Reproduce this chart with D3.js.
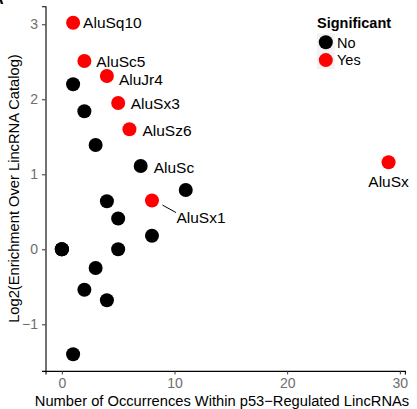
<!DOCTYPE html>
<html>
<head>
<meta charset="utf-8">
<script src="https://cdn.jsdelivr.net/npm/d3@7"></script>
<style>
  body { margin: 0; background: #fff; }
  text { font-family: "Liberation Sans", Arial, sans-serif; }
</style>
</head>
<body>
<script>
// Repeat elements: label (blank = unlabelled), occurrences, log2 enrichment, significance
const repeatNames = ["AluSq10", "AluSc5", "AluJr4", "", "AluSx3", "", "AluSz6", "", "AluSc", "",
                     "", "AluSx1", "", "", "", "", "", "", "", "", "", "", "AluSx"];
const occurrences = [1, 2, 4, 1, 5, 2, 6, 3, 7, 11,
                     4, 8, 5, 8, 0, 0, 0, 5, 3, 2, 4, 1, 29];
const log2Enrich  = [3.02, 2.51, 2.31, 2.20, 1.95, 1.84, 1.60, 1.39, 1.11, 0.79,
                     0.64, 0.65, 0.41, 0.18, 0, 0, 0, 0.0, -0.25, -0.54, -0.68, -1.40, 1.16];
const significant = ["Yes", "Yes", "Yes", "No", "Yes", "No", "Yes", "No", "No", "No",
                     "No", "Yes", "No", "No", "No", "No", "No", "No", "No", "No", "No", "No", "Yes"];

const xTicks = [0, 10, 20, 30];
const yTicks = [-1, 0, 1, 2, 3];
const legendLevels = ["No", "Yes"];

const W = 417, H = 409;
const panel = {left: 45.5, right: 404.9, top: 6.2, bottom: 370.9};
const R = 7;

const points = occurrences.map((d, i) => ({
  name: repeatNames[i], x: d, y: log2Enrich[i], sig: significant[i]
}));

const svg = d3.select("body").append("svg")
    .attr("width", W)
    .attr("height", H);

// ggplot-style 5% expansion
function expand(ext) {
  const pad = (ext[1] - ext[0]) * 0.05;
  return [ext[0] - pad, ext[1] + pad];
}

const x = d3.scaleLinear()
    .domain(expand(d3.extent(occurrences)))
    .range([panel.left, panel.right]);
const y = d3.scaleLinear()
    .domain(expand(d3.extent(log2Enrich)))
    .range([panel.bottom, panel.top]);
const color = d3.scaleOrdinal().domain(legendLevels).range(["#000000", "#ff0000"]);

// axes
const xAxis = svg.append("g")
    .attr("transform", `translate(0,${panel.bottom})`)
    .call(d3.axisBottom(x).tickValues(xTicks).tickFormat(d3.format("d"))
      .tickSizeOuter(0).tickSize(3.5).tickPadding(4));
const yAxis = svg.append("g")
    .attr("transform", `translate(${panel.left},0)`)
    .call(d3.axisLeft(y).tickValues(yTicks).tickFormat(d3.format("d"))
      .tickSizeOuter(0).tickSize(3.5).tickPadding(4));

[xAxis, yAxis].forEach(g => {
  g.select(".domain").attr("stroke", "#000").attr("stroke-width", 1.1);
  g.selectAll(".tick line").attr("stroke", "#333");
  g.selectAll(".tick text").attr("fill", "#6e6e6e").style("font-size", "14px")
    .style("font-family", "Liberation Sans, Arial, sans-serif");
});

// axis titles
svg.append("text")
    .attr("x", 222)
    .attr("y", 406)
    .attr("text-anchor", "middle")
    .style("font-size", "14.7px")
    .text("Number of Occurrences Within p53\u2212Regulated LincRNAs");

svg.append("text")
    .attr("transform", `translate(19,${(panel.top + panel.bottom) / 2}) rotate(-90)`)
    .attr("text-anchor", "middle")
    .style("font-size", "14.7px")
    .text("Log2(Enrichment Over LincRNA Catalog)");

// panel tag, mostly cropped as in the source figure
svg.append("text")
    .attr("x", -8).attr("y", 4)
    .style("font-size", "16px").style("font-weight", "bold")
    .text("A");

// points
svg.append("g").selectAll("circle")
    .data(points)
    .join("circle")
    .attr("cx", d => x(d.x))
    .attr("cy", d => y(d.y))
    .attr("r", R)
    .attr("fill", d => color(d.sig));

// labels (repel-like nudges)
const nudge = {
  "AluSq10": [10, 0], "AluSc5": [12, 0], "AluJr4": [12, 3.5], "AluSx3": [12.5, 0.5],
  "AluSz6": [13, 1.5], "AluSc": [13, 1], "AluSx1": [24.5, 16.5], "AluSx": [0, 19]
};
const labelled = points.filter(d => d.name);

svg.append("line")
    .datum(labelled.find(d => d.name === "AluSx1"))
    .attr("x1", d => x(d.x) + 10.5).attr("y1", d => y(d.y) + 4.5)
    .attr("x2", d => x(d.x) + 24).attr("y2", d => y(d.y) + 12)
    .attr("stroke", "#000").attr("stroke-width", 1);

svg.append("g").selectAll("text")
    .data(labelled)
    .join("text")
    .attr("x", d => x(d.x) + nudge[d.name][0])
    .attr("y", d => y(d.y) + nudge[d.name][1])
    .attr("dy", "0.36em")
    .attr("text-anchor", d => d.name === "AluSx" ? "middle" : "start")
    .style("font-size", "15.5px")
    .text(d => d.name);

// legend
const lg = svg.append("g").attr("transform", "translate(317,0)");
lg.append("text")
    .attr("x", 0).attr("y", 28)
    .style("font-size", "14.5px").style("font-weight", "bold")
    .text("Significant");
const item = lg.selectAll("g.item")
    .data(legendLevels)
    .join("g")
    .attr("class", "item")
    .attr("transform", (d, i) => `translate(0,${33.5 + i * 17.8})`);
item.append("rect")
    .attr("width", 17.6).attr("height", 17.6)
    .attr("fill", "#f2f2f2");
item.append("circle")
    .attr("cx", 8.8).attr("cy", 8.8).attr("r", R)
    .attr("fill", d => color(d));
item.append("text")
    .attr("x", 20).attr("y", 8.8).attr("dy", "0.36em")
    .style("font-size", "14.5px")
    .text(d => d);
</script>
</body>
</html>
